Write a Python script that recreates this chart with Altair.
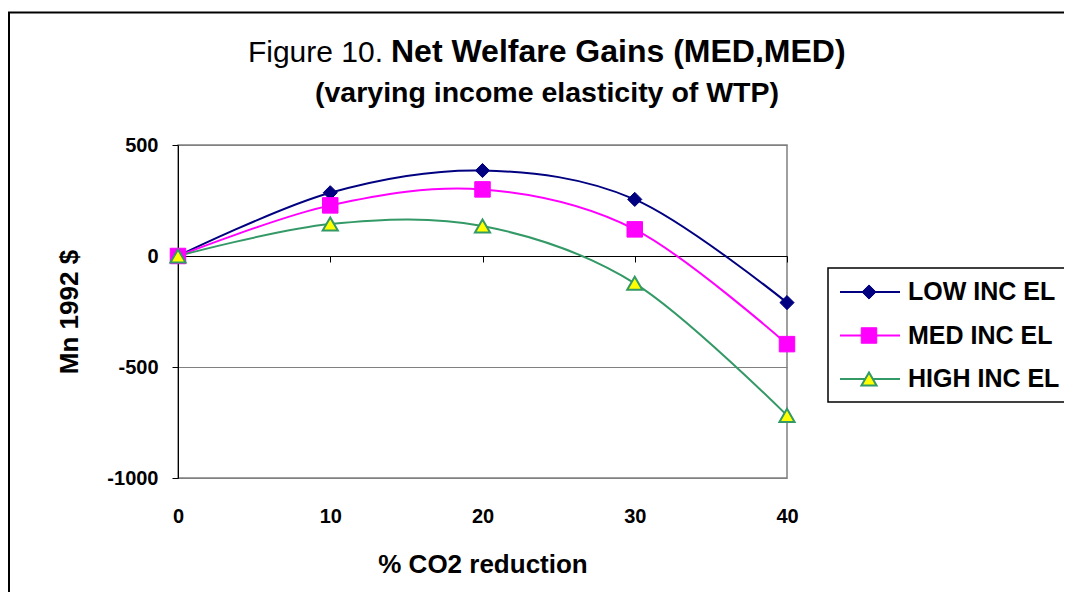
import altair as alt
import pandas as pd

# ---- data ----
pct = [0, 10, 20, 30, 40]
low_inc = [0, 285, 385, 255, -210]
med_inc = [0, 228, 300, 120, -397]
high_inc = [0, 144, 135, -123, -718]
series_names = ["LOW INC EL", "MED INC EL", "HIGH INC EL"]
line_colors = ["#000080", "#FF00FF", "#339966"]
marker_fills = ["#000080", "#FF00FF", "#FFFF00"]
marker_shapes = ["diamond", "square", "triangle-up"]
marker_sizes = [200, 240, 230]
x_ticks = [0, 10, 20, 30, 40]
y_ticks = [-1000, -500, 0, 500]
y_domain = [-1000, 500]
x_domain = [0, 40]
title_prefix = "Figure 10."
title_main = "Net Welfare Gains (MED,MED)"
subtitle = "(varying income elasticity of WTP)"
x_title = "% CO2 reduction"
y_title = "Mn 1992 $"

rows = []
for name, vals in zip(series_names, [low_inc, med_inc, high_inc]):
    for p, v in zip(pct, vals):
        rows.append({"pct": p, "value": v, "series": name})
df = pd.DataFrame(rows)
legend_df = pd.DataFrame({"series": series_names})

W, H = 609, 333
PAD_L, PAD_T, PAD_R, PAD_B = 170, 137, 277, 114
FONT = "Liberation Sans"

zero_shift = H * (0 - y_domain[0]) / (y_domain[1] - y_domain[0])

x_axis = alt.Axis(
    values=x_ticks, format="d", offset=-zero_shift, grid=False,
    domainColor="black", domainWidth=1, tickColor="black", tickSize=6,
    labelFont=FONT, labelFontSize=20, labelFontWeight="bold", labelColor="black",
    labelPadding=zero_shift + 28.5 - 6, labelFlush=False,
    title=x_title, titleFont=FONT, titleFontSize=26, titleFontWeight="bold",
    titleColor="black", titleBaseline="alphabetic", titleY=zero_shift + 94,
)
y_axis = alt.Axis(
    values=y_ticks, labelExpr="'' + datum.value", grid=True, gridColor="#808080",
    gridWidth=1, domainColor="black", domainWidth=1, tickColor="black", tickSize=6,
    labelFont=FONT, labelFontSize=20, labelFontWeight="bold", labelColor="black",
    labelPadding=14, labelFlush=False,
    title=y_title, titleFont=FONT, titleFontSize=26, titleFontWeight="bold",
    titleColor="black", titleX=-109, titleY=H / 2, titleAngle=270,
    titleBaseline="middle", titleAlign="center",
)

X = alt.X("pct:Q", scale=alt.Scale(domain=x_domain, nice=False), axis=x_axis)
Y = alt.Y("value:Q", scale=alt.Scale(domain=y_domain, nice=False), axis=y_axis)
COLOR = alt.Color("series:N", scale=alt.Scale(domain=series_names, range=line_colors), legend=None)

base = alt.Chart(df)

lines = base.mark_line(interpolate="cardinal", strokeWidth=2).encode(
    x=X, y=Y, color=COLOR, detail="series:N",
)

point_layers = []
for name, col, fill, shp, sz in zip(series_names, line_colors, marker_fills, marker_shapes, marker_sizes):
    point_layers.append(
        base.transform_filter(alt.datum.series == name).mark_point(
            shape=shp, filled=True, fill=fill, stroke=col, strokeWidth=2 if shp == "triangle-up" else 1,
            size=sz, opacity=1,
        ).encode(x=X, y=Y)
    )

main = alt.layer(lines, *point_layers)

# ---- legend (drawn as marks, placed right of the plot) ----
LX0 = 828 - 178          # legend box left, relative to plot
LY = alt.Y("series:N", scale=alt.Scale(type="point", domain=series_names,
                                       range=[292 - 145, 379 - 145], padding=0), axis=None)
lbase = alt.Chart(legend_df)
box_df = pd.DataFrame({"k": [1]})
leg_box = alt.Chart(box_df).mark_rect(fill="white", stroke="black", strokeWidth=1.5).encode(
    x=alt.value(LX0), x2=alt.value(LX0 + 600), y=alt.value(268 - 145), y2=alt.value(402 - 145))
leg_lines = lbase.mark_rule(strokeWidth=2).encode(
    x=alt.value(LX0 + 12), x2=alt.value(LX0 + 72), y=LY, color=COLOR)
leg_points = []
for name, col, fill, shp, sz in zip(series_names, line_colors, marker_fills, marker_shapes, marker_sizes):
    leg_points.append(
        lbase.transform_filter(alt.datum.series == name).mark_point(
            shape=shp, filled=True, fill=fill, stroke=col, strokeWidth=2 if shp == "triangle-up" else 1,
            size=sz, opacity=1,
        ).encode(x=alt.value(LX0 + 41), y=LY)
    )
leg_text = lbase.mark_text(font=FONT, fontSize=25, fontWeight="bold", align="left",
                           baseline="middle", color="black").encode(
    x=alt.value(LX0 + 80), y=LY, text="series:N")
legend = alt.layer(leg_lines, *leg_points, leg_text)

tdf1 = pd.DataFrame({"t": [title_prefix]})
tdf2 = pd.DataFrame({"t": [title_main]})
tdf3 = pd.DataFrame({"t": [subtitle]})
t1 = alt.Chart(tdf1).mark_text(font=FONT, fontSize=30, align="right", baseline="alphabetic", color="black").encode(
    text="t:N", x=alt.value(383 - 178), y=alt.value(62 - 145))
t2 = alt.Chart(tdf2).mark_text(font=FONT, fontSize=32, fontWeight="bold", align="left", baseline="alphabetic", color="black").encode(
    text="t:N", x=alt.value(391 - 178), y=alt.value(62 - 145))
t3 = alt.Chart(tdf3).mark_text(font=FONT, fontSize=28.5, fontWeight="bold", align="center", baseline="alphabetic", color="black").encode(
    text="t:N", x=alt.value(547 - 178), y=alt.value(101.5 - 145))

frame_df = pd.DataFrame({"k": [1]})
frame_left = alt.Chart(frame_df).mark_rule(color="black", strokeWidth=2).encode(
    x=alt.value(-169), y=alt.value(-133), y2=alt.value(H + PAD_B))
frame_top = alt.Chart(frame_df).mark_rule(color="black", strokeWidth=2).encode(
    y=alt.value(-132.5), x=alt.value(-170), x2=alt.value(W + PAD_R + 20))

chart = alt.layer(
    frame_left, frame_top, leg_box, main, legend, t1, t2, t3
).resolve_scale(y="independent").properties(
    width=W, height=H,
    autosize=alt.AutoSizeParams(type="none"),
    padding={"left": PAD_L, "top": PAD_T, "right": PAD_R, "bottom": PAD_B},
    background="white",
).configure_view(stroke="#808080", strokeWidth=1.5)

chart.save("out.html", embed_options={"renderer": "svg", "actions": False})
